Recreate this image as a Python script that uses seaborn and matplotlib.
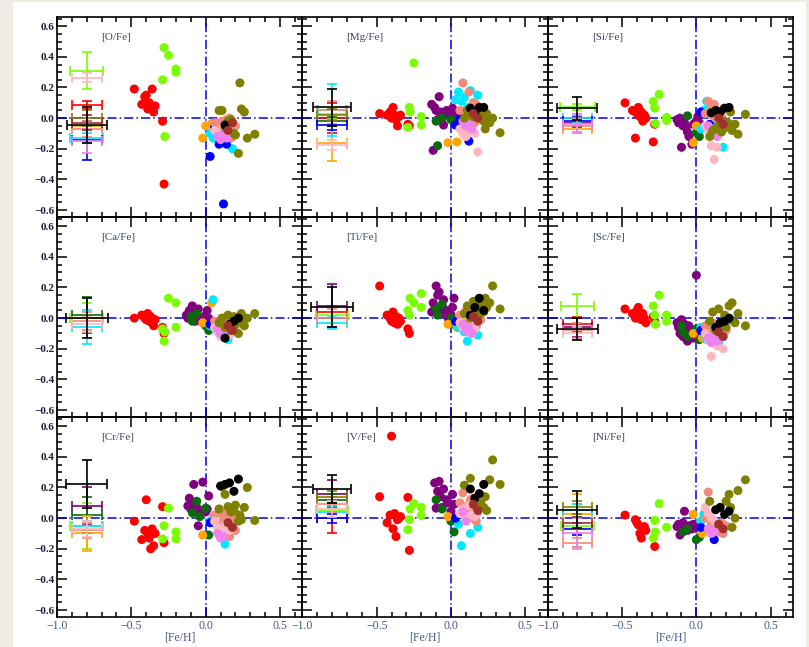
import numpy as np
import pandas as pd
import matplotlib
matplotlib.use("Agg")
import matplotlib.pyplot as plt
from matplotlib.patches import Rectangle
from matplotlib.ticker import MultipleLocator
import seaborn as sns

# ---------------------------------------------------------------- groups
GROUPS = ["red", "lawngreen", "purple", "darkgreen", "orange", "cyan", "blue",
          "salmon", "pink", "violet", "olive", "black", "brown"]
COLORS = {"red": "#ff0000", "lawngreen": "#7cfc00", "purple": "#800080",
          "darkgreen": "#0a6b0a", "orange": "#ffa500", "cyan": "#00e8ff",
          "blue": "#0000ff", "salmon": "#f08a7a", "pink": "#ffb6c1",
          "violet": "#ee82ee", "olive": "#808000", "black": "#000000",
          "brown": "#a0302a"}

# [Fe/H] of the stars in each group
FEH = {
    "red": [-0.48, -0.43, -0.41, -0.40, -0.39, -0.38, -0.37, -0.36, -0.35, -0.34, -0.29, -0.28],
    "lawngreen": [-0.29, -0.28, -0.275, -0.25, -0.20, -0.20, -0.26],
    "purple": [-0.13, -0.12, -0.11, -0.10, -0.09, -0.08, -0.07, -0.06, -0.05, -0.03, -0.02, 0.00, 0.01, 0.02],
    "darkgreen": [-0.10, -0.09, -0.06, -0.04, 0.00, 0.02],
    "orange": [-0.02, 0.00, 0.04],
    "cyan": [0.03, 0.05, 0.07, 0.09, 0.11, 0.13, 0.15, 0.18],
    "blue": [0.03, 0.06, 0.09, 0.12, 0.14],
    "salmon": [0.06, 0.08, 0.10, 0.11, 0.12, 0.13, 0.14, 0.15, 0.16, 0.17, 0.18, 0.20],
    "pink": [0.06, 0.08, 0.10, 0.12, 0.14, 0.16, 0.18],
    "violet": [0.08, 0.10, 0.12, 0.14],
    "olive": [0.09, 0.11, 0.13, 0.15, 0.17, 0.19, 0.20, 0.22, 0.23, 0.24, 0.26, 0.28, 0.33],
    "black": [0.10, 0.13, 0.16, 0.19, 0.22],
    "brown": [0.15, 0.18],
}

N = None  # abundance not measured

O_FE = {
    "red": [0.19, 0.09, 0.14, 0.15, 0.06, 0.10, 0.07, 0.19, 0.04, 0.08, -0.02, -0.43],
    "lawngreen": [0.25, 0.46, -0.12, 0.41, 0.32, 0.30, N],
    "purple": [N] * 14,
    "darkgreen": [N] * 6,
    "orange": [-0.13, -0.05, -0.035],
    "cyan": [-0.10, -0.13, -0.09, -0.12, -0.15, -0.08, -0.14, -0.20],
    "blue": [-0.25, -0.06, -0.17, -0.56, -0.17],
    "salmon": [-0.03, -0.06, -0.09, -0.02, -0.11, -0.05, -0.01, -0.07, 0.00, -0.13, -0.03, -0.05],
    "pink": [-0.08, -0.10, -0.12, -0.06, -0.10, -0.04, -0.02],
    "violet": [-0.12, -0.14, -0.10, -0.13],
    "olive": [0.05, 0.05, -0.06, -0.02, -0.01, -0.10, -0.11, -0.23, 0.23, 0.06, 0.04, -0.13, -0.105],
    "black": [N, -0.045, N, N, N],
    "brown": [-0.08, -0.03],
}
MG_FE = {
    "red": [0.03, 0.02, 0.04, 0.00, 0.07, 0.02, -0.01, -0.05, 0.01, 0.02, -0.04, -0.05],
    "lawngreen": [-0.06, 0.07, 0.04, 0.36, -0.045, 0.01, N],
    "purple": [0.09, -0.21, 0.07, 0.05, -0.01, 0.14, 0.04, 0.03, -0.045, 0.05, 0.02, 0.00, 0.065, 0.03],
    "darkgreen": [-0.02, -0.18, 0.00, N, -0.01, -0.03],
    "orange": [-0.16, N, -0.155],
    "cyan": [0.12, 0.17, 0.11, 0.135, 0.07, 0.18, 0.10, 0.15],
    "blue": [-0.045, 0.00, -0.06, -0.15, N],
    "salmon": [0.05, 0.23, -0.07, 0.02, 0.17, 0.00, 0.04, 0.10, -0.03, 0.09, 0.02, -0.01],
    "pink": [-0.07, -0.10, -0.12, -0.05, -0.09, -0.10, -0.22],
    "violet": [-0.02, -0.05, -0.04, -0.07],
    "olive": [0.00, 0.05, 0.03, 0.01, 0.04, 0.06, 0.02, -0.02, -0.07, 0.03, -0.03, 0.00, -0.095],
    "black": [N, 0.065, 0.035, 0.07, 0.07],
    "brown": [0.03, 0.00],
}
SI_FE = {
    "red": [0.10, 0.05, -0.13, 0.03, 0.07, 0.01, 0.04, -0.02, 0.02, 0.00, -0.155, -0.04],
    "lawngreen": [0.11, 0.065, -0.035, 0.155, 0.005, -0.015, N],
    "purple": [-0.01, -0.03, 0.00, -0.19, -0.05, -0.03, -0.06, -0.09, -0.12, -0.17, -0.04, -0.02, 0.01, -0.03],
    "darkgreen": [N, N, 0.015, N, -0.095, -0.12],
    "orange": [-0.16, -0.05, N],
    "cyan": [-0.07, 0.05, 0.11, 0.08, 0.02, -0.03, -0.10, -0.19],
    "blue": [0.04, N, -0.04, -0.105, N],
    "salmon": [0.03, 0.11, 0.06, 0.02, 0.09, 0.00, 0.05, 0.03, -0.02, 0.01, 0.06, -0.03],
    "pink": [-0.05, -0.08, -0.18, -0.27, -0.19, -0.03, -0.07],
    "violet": [-0.05, -0.10, -0.07, -0.12],
    "olive": [-0.12, -0.08, -0.07, -0.05, -0.09, -0.02, -0.06, -0.035, 0.04, -0.08, -0.04, -0.105, 0.025],
    "black": [0.035, 0.05, 0.04, 0.065, 0.07],
    "brown": [0.00, -0.04],
}
CA_FE = {
    "red": [0.00, 0.02, 0.00, -0.01, 0.03, -0.02, 0.01, -0.03, -0.05, -0.01, -0.06, -0.10],
    "lawngreen": [-0.07, -0.15, -0.09, 0.13, 0.10, -0.06, N],
    "purple": [0.02, 0.00, 0.05, 0.03, 0.08, 0.01, -0.02, 0.04, 0.06, 0.00, -0.03, 0.02, 0.05, 0.00],
    "darkgreen": [0.01, -0.02, 0.03, N, -0.05, -0.08],
    "orange": [-0.03, N, 0.10],
    "cyan": [-0.05, 0.12, -0.08, -0.10, -0.12, -0.06, -0.14, -0.09],
    "blue": [-0.04, N, -0.07, -0.10, N],
    "salmon": [-0.02, -0.05, -0.08, 0.00, -0.10, -0.04, -0.07, -0.11, -0.03, -0.06, -0.09, -0.05],
    "pink": [-0.06, -0.09, -0.12, -0.04, -0.08, -0.11, -0.03],
    "violet": [-0.07, -0.10, -0.05, -0.09],
    "olive": [-0.03, 0.00, -0.06, 0.02, -0.08, 0.01, -0.04, -0.10, -0.02, 0.03, -0.05, 0.00, 0.03],
    "black": [N, -0.13, -0.04, -0.02, 0.00],
    "brown": [-0.05, -0.08],
}
TI_FE = {
    "red": [0.21, 0.02, 0.00, -0.02, 0.04, -0.03, 0.01, -0.04, 0.00, -0.02, -0.07, -0.10],
    "lawngreen": [0.05, 0.02, 0.13, 0.10, 0.16, 0.07, N],
    "purple": [0.04, 0.10, 0.06, 0.21, 0.15, 0.17, 0.03, 0.08, 0.12, 0.05, 0.00, 0.02, 0.07, 0.13],
    "darkgreen": [0.06, 0.02, 0.09, N, 0.00, -0.04],
    "orange": [-0.04, N, -0.06],
    "cyan": [-0.02, -0.06, -0.03, -0.09, -0.15, -0.05, -0.08, -0.11],
    "blue": [-0.02, N, -0.05, -0.08, N],
    "salmon": [0.02, -0.03, 0.05, -0.06, 0.00, 0.04, -0.08, -0.02, 0.03, -0.05, 0.06, -0.01],
    "pink": [-0.03, -0.06, 0.02, -0.09, -0.04, -0.07, 0.00],
    "violet": [-0.04, -0.08, -0.06, -0.10],
    "olive": [0.03, 0.08, 0.00, 0.11, 0.05, 0.02, 0.09, 0.04, 0.13, 0.07, 0.10, 0.21, 0.06],
    "black": [N, 0.02, 0.07, 0.13, 0.05],
    "brown": [0.01, -0.02],
}
SC_FE = {
    "red": [0.06, 0.03, 0.00, 0.05, 0.07, 0.02, -0.01, 0.03, 0.00, -0.03, 0.01, -0.02],
    "lawngreen": [0.08, 0.02, -0.04, 0.15, 0.02, -0.02, N],
    "purple": [-0.03, -0.06, -0.10, -0.01, -0.12, -0.04, -0.08, -0.15, -0.05, -0.09, -0.13, 0.28, -0.07, -0.11],
    "darkgreen": [-0.05, -0.09, -0.12, N, -0.07, -0.14],
    "orange": [-0.10, N, -0.13],
    "cyan": [-0.06, -0.10, -0.14, -0.08, -0.12, -0.05, -0.16, -0.09],
    "blue": [-0.08, N, -0.11, -0.13, N],
    "salmon": [-0.05, -0.09, -0.13, -0.03, -0.11, -0.07, -0.15, -0.04, -0.10, -0.06, -0.12, -0.08],
    "pink": [-0.10, -0.14, -0.25, -0.12, -0.18, -0.09, -0.20],
    "violet": [-0.13, -0.16, -0.11, -0.15],
    "olive": [-0.02, 0.04, -0.08, 0.06, -0.04, 0.02, -0.06, 0.08, -0.01, 0.10, -0.03, 0.03, -0.05],
    "black": [N, -0.06, -0.03, -0.02, 0.00],
    "brown": [-0.09, -0.12],
}
CR_FE = {
    "red": [-0.02, -0.14, -0.08, 0.12, -0.10, -0.13, -0.20, -0.07, -0.18, -0.10, 0.075, -0.16],
    "lawngreen": [-0.135, -0.05, N, 0.065, -0.09, -0.135, N],
    "purple": [N, 0.08, 0.13, 0.06, 0.10, 0.22, 0.04, 0.07, -0.05, 0.05, 0.235, 0.04, 0.06, 0.145],
    "darkgreen": [N, 0.035, 0.11, 0.01, 0.065, -0.11],
    "orange": [-0.11, N, N],
    "cyan": [-0.02, 0.00, -0.04, N, N, -0.17, 0.00, N],
    "blue": [-0.03, N, N, N, N],
    "salmon": [0.02, -0.04, -0.07, 0.03, 0.00, -0.08, 0.04, -0.02, -0.12, -0.05, 0.00, -0.08],
    "pink": [-0.02, -0.06, -0.09, -0.10, -0.05, -0.08, N],
    "violet": [-0.10, -0.13, -0.12, N],
    "olive": [0.06, 0.205, 0.155, 0.075, 0.04, 0.05, 0.085, -0.02, 0.02, -0.01, 0.07, 0.20, -0.015],
    "black": [0.21, 0.22, 0.23, 0.175, 0.255],
    "brown": [-0.03, -0.06],
}
V_FE = {
    "red": [0.14, -0.03, 0.02, 0.535, -0.07, 0.03, -0.12, -0.01, 0.00, 0.01, 0.135, -0.21],
    "lawngreen": [-0.075, -0.01, 0.06, 0.095, 0.07, 0.017, N],
    "purple": [N, N, 0.23, 0.065, 0.175, 0.24, 0.14, 0.07, 0.19, 0.12, 0.10, 0.045, 0.155, 0.09],
    "darkgreen": [0.12, N, 0.06, N, -0.02, -0.09],
    "orange": [0.01, N, N],
    "cyan": [N, -0.04, -0.18, N, N, -0.10, N, -0.06],
    "blue": [0.00, N, N, N, N],
    "salmon": [0.10, 0.165, 0.05, 0.08, 0.00, 0.12, 0.03, 0.13, 0.06, -0.02, 0.04, N],
    "pink": [0.03, 0.06, 0.00, 0.08, 0.02, 0.01, N],
    "violet": [0.04, -0.02, N, N],
    "olive": [0.215, N, 0.26, N, N, N, 0.10, 0.07, 0.14, 0.05, 0.25, 0.38, 0.22],
    "black": [N, 0.19, 0.13, 0.16, 0.22],
    "brown": [0.09, 0.05],
}
NI_FE = {
    "red": [0.02, N, -0.01, -0.03, -0.045, -0.10, -0.13, -0.06, -0.055, -0.08, N, -0.185],
    "lawngreen": [-0.13, -0.015, -0.09, 0.095, -0.06, N, N],
    "purple": [-0.055, -0.04, -0.11, -0.06, -0.03, 0.045, -0.06, -0.08, -0.05, -0.07, -0.04, -0.06, N, N],
    "darkgreen": [N, -0.09, -0.07, N, -0.14, -0.125],
    "orange": [0.025, N, -0.10],
    "cyan": [-0.02, 0.025, N, N, N, N, N, N],
    "blue": [-0.06, N, N, -0.14, N],
    "salmon": [0.00, 0.17, -0.03, -0.05, -0.02, -0.07, -0.04, -0.09, -0.06, -0.03, -0.10, -0.05],
    "pink": [0.07, 0.03, 0.00, -0.02, N, N, N],
    "violet": [-0.07, -0.10, -0.09, N],
    "olive": [0.11, N, N, N, N, N, 0.11, 0.155, 0.07, -0.06, 0.00, 0.18, 0.25],
    "black": [N, 0.055, 0.07, 0.025, 0.045],
    "brown": [-0.04, -0.07],
}

# representative uncertainties: group -> (y position, x error, y error)
O_ERR = {"lawngreen": (0.31, 0.11, 0.12), "pink": (0.265, 0.10, 0.03),
         "red": (0.085, 0.10, 0.025), "olive": (0.0, 0.10, 0.05),
         "brown": (-0.03, 0.10, 0.05), "salmon": (-0.07, 0.10, 0.05),
         "orange": (-0.05, 0.10, 0.03), "violet": (-0.15, 0.10, 0.08),
         "cyan": (-0.13, 0.11, 0.03), "blue": (-0.145, 0.10, 0.125),
         "black": (-0.045, 0.135, 0.12)}
MG_ERR = {"cyan": (0.055, 0.095, 0.17), "lawngreen": (0.03, 0.10, 0.03),
          "olive": (0.02, 0.10, 0.04), "salmon": (0.05, 0.10, 0.06),
          "darkgreen": (-0.02, 0.10, 0.03), "red": (0.0, 0.10, 0.10),
          "pink": (-0.175, 0.10, 0.03), "orange": (-0.16, 0.10, 0.12),
          "blue": (-0.045, 0.10, 0.03), "black": (0.07, 0.13, 0.12)}
SI_ERR = {"lawngreen": (0.07, 0.12, 0.02), "cyan": (0.0, 0.10, 0.03),
          "purple": (-0.03, 0.10, 0.03), "salmon": (-0.05, 0.10, 0.05),
          "blue": (-0.02, 0.10, 0.03), "orange": (-0.07, 0.10, 0.02),
          "violet": (-0.04, 0.10, 0.06), "black": (0.066, 0.135, 0.075)}
CA_ERR = {"lawngreen": (0.0, 0.11, 0.10), "salmon": (-0.02, 0.10, 0.06),
          "cyan": (-0.06, 0.10, 0.11), "darkgreen": (0.02, 0.10, 0.12),
          "pink": (-0.04, 0.10, 0.05), "black": (0.0, 0.14, 0.13)}
TI_ERR = {"purple": (0.08, 0.10, 0.14), "red": (0.04, 0.10, 0.04),
          "lawngreen": (0.02, 0.11, 0.05), "salmon": (0.0, 0.10, 0.06),
          "cyan": (-0.03, 0.10, 0.04), "black": (0.07, 0.14, 0.13)}
SC_ERR = {"lawngreen": (0.08, 0.11, 0.08), "red": (-0.04, 0.10, 0.05),
          "salmon": (-0.08, 0.10, 0.05), "pink": (-0.1, 0.10, 0.04),
          "purple": (-0.06, 0.10, 0.06), "black": (-0.07, 0.14, 0.07)}
CR_ERR = {"purple": (0.08, 0.10, 0.12), "darkgreen": (0.02, 0.10, 0.12),
          "lawngreen": (-0.05, 0.11, 0.15), "cyan": (-0.05, 0.10, 0.03),
          "pink": (-0.07, 0.10, 0.05), "salmon": (-0.08, 0.10, 0.05),
          "orange": (-0.10, 0.10, 0.115), "black": (0.223, 0.137, 0.155)}
V_ERR = {"purple": (0.16, 0.10, 0.09), "darkgreen": (0.12, 0.10, 0.04),
         "olive": (0.14, 0.10, 0.04), "salmon": (0.09, 0.10, 0.05),
         "pink": (0.06, 0.10, 0.05), "lawngreen": (0.05, 0.11, 0.05),
         "cyan": (0.04, 0.10, 0.04), "red": (0.0, 0.10, 0.10),
         "blue": (0.0, 0.10, 0.03), "black": (0.19, 0.13, 0.09)}
NI_ERR = {"orange": (0.03, 0.10, 0.13), "olive": (0.07, 0.10, 0.04),
          "cyan": (0.05, 0.10, 0.04), "brown": (-0.03, 0.10, 0.04),
          "lawngreen": (-0.05, 0.11, 0.14), "blue": (-0.07, 0.10, 0.04),
          "violet": (-0.10, 0.10, 0.10), "salmon": (-0.16, 0.10, 0.03),
          "black": (0.055, 0.135, 0.12)}

PANELS = [("[O/Fe]", O_FE, O_ERR), ("[Mg/Fe]", MG_FE, MG_ERR), ("[Si/Fe]", SI_FE, SI_ERR),
          ("[Ca/Fe]", CA_FE, CA_ERR), ("[Ti/Fe]", TI_FE, TI_ERR), ("[Sc/Fe]", SC_FE, SC_ERR),
          ("[Cr/Fe]", CR_FE, CR_ERR), ("[V/Fe]", V_FE, V_ERR), ("[Ni/Fe]", NI_FE, NI_ERR)]

ERR_X = -0.8
X_TICKS = [-1.0, -0.5, 0.0, 0.5]
Y_TICKS = [-0.6, -0.4, -0.2, 0.0, 0.2, 0.4, 0.6]


def long_table(values):
    rows = []
    for g in GROUPS:
        for x, y in zip(FEH[g], values[g]):
            if y is not None:
                rows.append((g, x, y))
    return pd.DataFrame(rows, columns=["group", "feh", "abund"])


# ---------------------------------------------------------------- figure
sns.set_theme(style="white")
plt.rcParams["font.family"] = ["Liberation Serif", "DejaVu Serif"]

W, H = 809, 647
fig = plt.figure(figsize=(W / 100, H / 100), dpi=100, facecolor="#eeebe3")
fig.patches.append(Rectangle((13 / W, 0), (806 - 13) / W, (H - 2) / H,
                             transform=fig.transFigure, facecolor="white",
                             edgecolor="none", zorder=-10))

gs = fig.add_gridspec(3, 3, left=57 / W, right=793 / W, top=1 - 17 / H,
                      bottom=1 - 617 / H, wspace=0, hspace=0)

tick_color_y = "#1b1f3d"
tick_color_x = "#44568c"
label_color = "#3b4466"

for i, (title, values, errs) in enumerate(PANELS):
    r, c = divmod(i, 3)
    ax = fig.add_subplot(gs[r, c])
    ax.set_facecolor("none")
    ax.set_zorder(1)

    ax.axhline(0, color="#0000ee", lw=1.1, ls=(0, (6, 2, 1, 2)), zorder=1)
    ax.axvline(0, color="#0000ee", lw=1.1, ls=(0, (6, 2, 1, 2)), zorder=1)

    for g in GROUPS:
        if g in errs:
            y, xe, ye = errs[g]
            ax.errorbar([ERR_X], [y], xerr=[xe], yerr=[ye], fmt="none",
                        ecolor=COLORS[g], elinewidth=1.2, capsize=3.5,
                        capthick=1.2, zorder=3 if g == "black" else 2)

    df = long_table(values)
    sns.scatterplot(data=df, x="feh", y="abund", hue="group", hue_order=GROUPS,
                    palette=COLORS, s=42, linewidth=0, legend=False, ax=ax,
                    zorder=4)

    ax.text(0.18, 0.9, title, transform=ax.transAxes, fontsize=8,
            color=label_color, va="center", ha="left")

    ax.set_xlim(-1.0, 0.65)
    ax.set_ylim(-0.645, 0.66)
    ax.xaxis.set_major_locator(MultipleLocator(0.5))
    ax.xaxis.set_minor_locator(MultipleLocator(0.1))
    ax.yaxis.set_major_locator(MultipleLocator(0.2))
    ax.yaxis.set_minor_locator(MultipleLocator(0.05))
    ax.tick_params(which="both", direction="in", top=True, right=True,
                   bottom=True, left=True, color="black", width=1.1)
    ax.tick_params(which="major", length=7)
    ax.tick_params(which="minor", length=3.5)
    for sp in ax.spines.values():
        sp.set_color("black")
        sp.set_linewidth(1.2)

    ax.set_xlabel("")
    ax.set_ylabel("")
    if c == 0:
        ax.set_yticks(Y_TICKS)
        ax.set_yticklabels([f"{v:.1f}".replace("-", "\u2212") for v in Y_TICKS],
                           fontsize=8, fontweight="bold", color=tick_color_y)
    else:
        ax.set_yticklabels([])
    if r == 2:
        ax.set_xticks(X_TICKS)
        ax.set_xticklabels([f"{v:.1f}".replace("-", "\u2212") for v in X_TICKS],
                           fontsize=8.5, color=tick_color_x)
        ax.set_xlabel("[Fe/H]", fontsize=8.5, color=tick_color_x, labelpad=0)
    else:
        ax.set_xticklabels([])
    ax.tick_params(axis="both", pad=2)
    ax.set_xlim(-1.0, 0.65)
    ax.set_ylim(-0.645, 0.66)

fig.savefig("out.png", dpi=100, facecolor=fig.get_facecolor())
